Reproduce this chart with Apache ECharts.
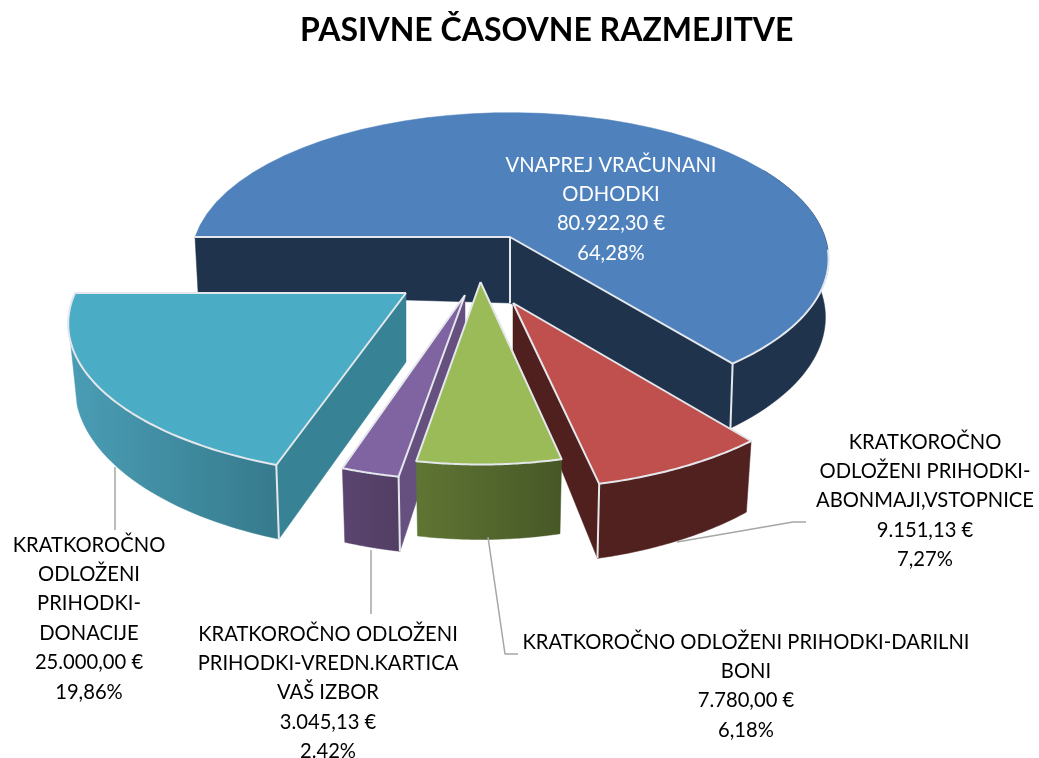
<!DOCTYPE html>
<html>
<head>
<meta charset="utf-8">
<style>html,body{margin:0;padding:0;background:#fff}#c{width:1039px;height:758px}</style>
<script src="https://cdn.jsdelivr.net/npm/echarts@6/dist/echarts.min.js"></script>
</head>
<body>
<div id="c"></div>
<script>
const chartTitle = 'PASIVNE ČASOVNE RAZMEJITVE';
const categories = ['VNAPREJ VRAČUNANI ODHODKI','KRATKOROČNO ODLOŽENI PRIHODKI-ABONMAJI,VSTOPNICE','KRATKOROČNO ODLOŽENI PRIHODKI-DARILNI BONI','KRATKOROČNO ODLOŽENI PRIHODKI-VREDN.KARTICA VAŠ IZBOR','KRATKOROČNO ODLOŽENI PRIHODKI-DONACIJE'];
const values = [80922.30, 9151.13, 7780.00, 3045.13, 25000.00];
const amountLabels = ['80.922,30 €','9.151,13 €','7.780,00 €','3.045,13 €','25.000,00 €'];
const percentLabels = ['64,28%','7,27%','6,18%','2.42%','19,86%'];
const wrappedNames = [
  ['VNAPREJ VRAČUNANI','ODHODKI'],
  ['KRATKOROČNO','ODLOŽENI PRIHODKI-','ABONMAJI,VSTOPNICE'],
  ['KRATKOROČNO ODLOŽENI PRIHODKI-DARILNI','BONI'],
  ['KRATKOROČNO ODLOŽENI','PRIHODKI-VREDN.KARTICA','VAŠ IZBOR'],
  ['KRATKOROČNO','ODLOŽENI','PRIHODKI-','DONACIJE']
];
const drawOrder = [0,1,4,3,2];
const startAngle = 270;

// Layout of the exploded perspective pie (not data)
const slices = [
  {ax:510,ay:237,R:315,Ry:143,k:.15,H:57,aH:66,xb:.99,top:'#4f81bd',wall:['#1f334d','#1f334d'],cut:'#1f334d',rimFrom:95,label:[611,165],lc:'#fff',leader:null},
  {ax:513,ay:303,R:322,Ry:149,k:.2,H:60,aH:47,xb:.98,top:'#c0504d',wall:['#50211f','#50211f'],cut:'#4f201e',label:[925,442],lc:'#000',leader:[[677,542],[793,522],[806,522]]},
  {ax:480.5,ay:282,R:303,Ry:146,k:.2,H:60,aH:60,xb:.98,top:'#9bbb59',wall:['#5f7533','#475827'],cut:'#475827',label:[746,642],lc:'#000',leader:[[488,537],[505,654],[518,654]]},
  {ax:465,ay:295,R:313,Ry:148,k:.2,H:60,aH:60,xb:.98,top:'#8064a2',wall:['#5a4570','#523e62'],cut:'#66507f',label:[328,634],lc:'#000',leader:[[371,550],[371,614]]},
  {ax:406,ay:293,R:331,Ry:147,k:.2,H:60,aH:69,xb:.98,top:'#4bacc6',wall:['#4a9db5','#367a8c'],cut:'#388296',label:[89,545],lc:'#000',leader:[[115,467],[115,530]]}
];
const edge = '#e4e7ec';
const total = values.reduce((a,b)=>a+b,0);
const LINE = 29.4;
const rad = d => d*Math.PI/180;

function pt(s,theta,low){
  const t=rad(theta), sc=1/(1+s.k*Math.cos(t));
  return [s.ax+s.R*Math.sin(t)*sc*(low?s.xb:1), s.ay-s.Ry*Math.cos(t)*sc+(low?s.H*sc:0)];
}
function rim(s,a,b,low){
  const n=48,out=[];
  for(let i=0;i<=n;i++) out.push(pt(s,a+(b-a)*i/n,low));
  return out;
}
function poly(points,fill){
  return {type:'polygon',shape:{points},style:{fill,stroke:fill,lineWidth:.5}};
}
function line(points,color,w){
  return {type:'polyline',shape:{points},style:{stroke:color,lineWidth:w,fill:null,lineJoin:'round'}};
}
function renderItem(params,api){
  const idx=api.value(1), s=slices[idx];
  let before=0; for(let i=0;i<idx;i++) before+=values[i];
  const a0=startAngle+before/total*360, a1=a0+api.value(0)/total*360;
  const A=[s.ax,s.ay], Ab=[s.ax,s.ay+s.aH];
  const kids=[];
  if(idx===0){
    kids.push(poly([pt(s,a0),A,Ab,pt(s,a0,1)],s.cut));
    const from=420;
    kids.push(poly(rim(s,from,a1,0).concat(rim(s,a1,from,1)),s.wall[0]));
    kids.push(poly([A,pt(s,a1),pt(s,a1,1),Ab],s.cut));
    kids.push(line([A,Ab],edge,2));
    kids.push(line([pt(s,a1),pt(s,a1,1)],edge,2));
    kids.push(poly([A].concat(rim(s,a0,a1,0)),s.top));
    kids.push(line([pt(s,a0),A,pt(s,a1)].concat(rim(s,a1,360+s.rimFrom,0)),edge,2));
  } else {
    const grad={type:'linear',x:0,y:0,x2:1,y2:0,colorStops:[{offset:0,color:s.wall[0]},{offset:1,color:s.wall[1]}]};
    if(idx===1) kids.push(poly([A,pt(s,a1),pt(s,a1,1),Ab],s.cut));
    if(idx===3||idx===4) kids.push(poly([A,pt(s,a0),pt(s,a0,1),Ab],s.cut));
    const hi=idx===4?a1-18:a1;
    kids.push(poly(rim(s,a0,hi,0).concat(rim(s,hi,a0,1)),grad));
    if(idx===3||idx===4) kids.push(line([pt(s,a0),pt(s,a0,1)],edge,2));
    if(idx===1) kids.push(line([pt(s,a1),pt(s,a1,1)],edge,2));
    kids.push(poly([A].concat(rim(s,a0,a1,0)),s.top));
    kids.push(line([A].concat(rim(s,a0,a1,0)).concat([A]),edge,2));
  }
  if(s.leader) kids.push(line(s.leader,'#a6a6a6',1.5));
  const rows=wrappedNames[idx].concat([amountLabels[idx],percentLabels[idx]]);
  rows.forEach((t,j)=>{
    kids.push({type:'text',x:s.label[0],y:s.label[1]+LINE*j,
      style:{text:t,fill:s.lc,font:'20.2px Lato, "Noto Sans", sans-serif',textAlign:'center',textVerticalAlign:'middle'}});
  });
  return {type:'group',children:kids};
}

const chart=echarts.init(document.getElementById('c'),null,{renderer:'canvas'});
chart.setOption({
  animation:false,
  backgroundColor:'#fff',
  title:{text:chartTitle,left:295,top:10,textStyle:{fontFamily:'Lato',fontWeight:'bold',fontSize:32,color:'#000'}},
  tooltip:{show:false},
  series:[{
    type:'custom',
    coordinateSystem:'none',
    name:chartTitle,
    renderItem,
    silent:true,
    clip:false,
    data:drawOrder.map(i=>({name:categories[i],value:[values[i],i]}))
  }]
});
</script>
</body>
</html>
